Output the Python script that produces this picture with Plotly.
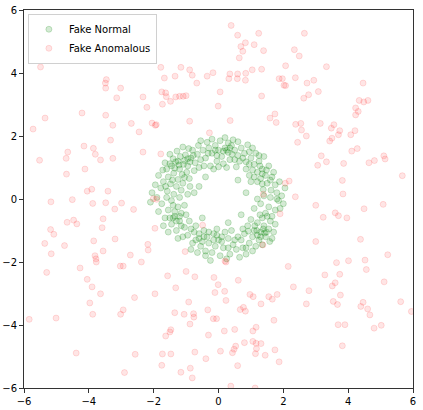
import plotly.graph_objects as go

# 이상치 탐지용 가짜 샘플 (그림에서 읽은 좌표)
normal_pts = [
    (-1.45, 1.05), (-1.32, 1.18), (-1.20, 0.95), (-1.05, 1.22), (-0.95, 1.05), (-1.12, 0.78),
    (-1.38, 0.82), (-1.55, 0.70), (-1.25, 0.62), (-0.98, 0.85), (-0.85, 1.30), (-0.72, 1.15),
    (-0.65, 1.42), (-0.80, 1.55), (-1.02, 1.40), (-1.18, 1.35), (-1.40, 1.28), (-1.60, 0.95),
    (-1.70, 0.55), (-1.48, 0.48), (-1.30, 0.40), (-1.10, 0.50), (-0.90, 0.65), (-0.75, 0.90),
    (-0.60, 1.00), (-0.55, 1.25), (-1.65, 1.15), (-1.50, 1.42), (-1.28, 1.52), (-0.92, 1.60),
    (-1.85, 0.75), (-1.78, 0.35), (-1.58, 0.25), (-1.38, 0.15), (-1.15, 0.28), (-0.88, 0.40),
    (-1.05, 0.68), (-1.22, 1.08), (-1.35, 0.98), (-0.78, 1.38), (-0.48, 1.55), (-0.62, 1.70),
    (-1.10, 1.65), (-1.50, 1.12), (-1.72, 0.92), (-0.95, 1.28), (-1.42, 0.60), (-1.63, 0.40),
    (-0.40, 1.30), (-0.30, 1.62), (-0.20, 1.45), (-0.10, 1.70), (0.00, 1.55), (0.10, 1.35),
    (0.20, 1.62), (0.30, 1.48), (0.40, 1.70), (0.50, 1.55), (0.60, 1.38), (0.70, 1.62),
    (0.35, 1.25), (0.15, 1.12), (-0.05, 1.20), (-0.25, 1.05), (-0.35, 1.80), (0.05, 1.85),
    (0.45, 1.88), (0.80, 1.45), (0.90, 1.72), (0.65, 1.20), (0.25, 1.00), (-0.15, 0.95),
    (0.55, 1.02), (-0.45, 1.05), (0.00, 1.02), (0.30, 1.78), (-0.20, 1.90), (0.75, 1.30),
    (0.95, 1.50), (0.85, 1.18), (0.15, 1.52), (-0.05, 1.38), (0.42, 1.42), (-0.32, 1.45),
    (0.60, 1.82), (1.05, 1.62), (0.20, 1.95), (0.50, 1.25),
    (1.00, 1.30), (1.10, 1.10), (1.25, 1.20), (1.35, 0.95), (1.20, 0.85), (1.05, 0.92),
    (1.45, 0.75), (1.55, 1.05), (1.40, 1.35), (1.15, 1.45), (0.95, 1.10), (1.60, 0.60),
    (1.30, 0.65), (1.70, 0.85), (1.50, 0.50), (1.75, 0.45), (1.20, 0.55), (0.95, 0.75),
    (1.62, 0.28), (1.80, 0.20), (1.38, 0.30), (1.00, 0.55), (1.28, 1.05), (1.48, 0.92),
    (1.10, 0.70), (0.85, 0.95), (1.65, 0.70), (1.35, 0.48), (1.88, 0.55), (1.25, 1.38),
    (1.40, 0.10), (1.60, 0.05), (1.85, -0.05), (1.30, -0.15), (1.55, -0.25), (1.75, -0.35),
    (1.95, 0.10), (1.20, 0.00), (1.45, -0.45), (1.65, -0.55), (1.90, -0.30), (1.10, -0.30),
    (1.35, -0.60), (1.80, 0.00), (2.00, -0.15),
    (1.20, -0.75), (1.40, -0.85), (1.55, -0.95), (1.30, -1.05), (1.10, -1.00), (1.45, -1.20),
    (1.25, -1.30), (1.05, -1.20), (0.90, -0.85), (1.60, -0.70), (1.70, -1.05), (1.15, -1.50),
    (0.95, -1.40), (1.35, -1.45), (0.80, -1.10), (1.00, -0.65), (1.50, -0.55), (1.75, -0.80),
    (1.20, -1.15), (1.38, -0.95), (0.85, -1.55), (1.05, -1.65), (0.70, -1.30), (1.58, -1.35),
    (1.28, -0.50), (0.92, -1.02), (1.12, -0.85), (1.48, -1.05), (1.65, -1.25), (0.75, -0.95),
    (0.60, -1.20), (0.45, -1.45), (0.30, -1.25), (0.15, -1.55), (0.00, -1.30), (-0.15, -1.10),
    (-0.30, -1.40), (-0.20, -1.70), (0.05, -1.80), (0.35, -1.75), (0.55, -1.60), (0.20, -1.05),
    (-0.05, -0.95), (0.40, -1.00), (0.65, -1.85), (-0.35, -1.20), (-0.10, -1.50), (0.10, -1.35),
    (0.25, -1.90), (-0.40, -1.65), (0.50, -1.30), (-0.25, -1.95), (0.75, -1.55), (-0.05, -1.15),
    (0.30, -1.55),
    (-0.45, -1.00), (-0.60, -1.25), (-0.75, -1.05), (-0.55, -1.50), (-0.80, -1.40), (-0.95, -1.15),
    (-0.70, -0.85), (-1.05, -0.90), (-1.20, -0.70), (-1.35, -0.55), (-1.15, -0.45), (-1.45, -0.80),
    (-1.30, -1.00), (-1.55, -0.35), (-1.40, -0.20), (-1.25, -0.25), (-1.65, -0.60), (-1.75, -0.15),
    (-1.85, -0.40), (-1.10, -1.20), (-0.90, -0.70), (-1.00, -0.50), (-1.55, -1.05), (-0.65, -1.70),
    (-0.85, -1.60), (-1.60, 0.05), (-1.90, 0.05), (-1.70, -0.85), (-1.25, -1.25), (-0.40, -1.80),
    (-1.45, -0.05), (-1.20, 0.05), (-1.05, -0.20), (-0.95, 0.15), (-1.35, -0.40), (-1.50, -0.60),
    (-0.70, -1.30), (-0.50, -1.35), (-1.15, -0.85), (-0.85, -0.95),
    (-0.60, 0.40), (-0.40, 0.70), (0.60, 0.60), (0.70, -0.50), (-0.50, -0.60), (0.30, -0.75),
    (-0.75, 0.20), (0.85, 0.20),
    # 빽빽한 부분 보강
    (-1.25, 1.20), (-1.08, 1.10), (-0.88, 1.18), (0.25, 1.55), (0.35, 1.62), (-0.10, 1.55),
    (1.30, -1.20), (1.18, -1.00), (1.42, -1.08), (-0.45, -1.20), (-0.30, -1.05), (-0.60, -1.10),
    (-1.30, -0.70), (-1.40, -0.60), (-1.20, -0.55), (0.10, -1.20), (-0.15, -1.30), (1.35, 0.80),
    (-2.05, 0.20), (-2.10, -0.10), (2.05, 0.35), (-1.95, 0.45), (-0.55, 1.85), (0.85, -1.75),
]

anomalous_pts = [
    # 위쪽 가운데
    (0.39, 5.51), (0.59, 5.20), (1.24, 5.26), (0.83, 4.96), (0.69, 4.84), (1.10, 4.90),
    (0.75, 4.69), (1.39, 4.71), (0.64, 4.48), (-1.78, 4.18), (-1.16, 4.18), (-0.89, 4.10),
    (-0.81, 3.93), (-1.67, 3.84), (-1.34, 3.90), (-0.35, 3.90), (-0.17, 4.01), (-0.67, 3.68),
    (0.35, 3.97), (0.59, 3.97), (0.84, 3.99), (1.04, 4.10), (1.33, 4.12), (0.32, 3.82),
    (0.58, 3.82), (0.83, 3.77), (1.87, 3.82), (1.97, 3.82), (2.02, 3.61), (-1.75, 3.40),
    (-1.63, 3.37), (-1.61, 3.25), (-1.48, 3.10), (-1.32, 3.24), (-1.20, 3.26), (-1.09, 3.26),
    (-1.00, 3.28), (-1.73, 3.01), (0.05, 3.40), (-0.01, 2.95), (1.33, 3.27), (-0.89, 2.47),
    (0.36, 2.49), (1.59, 2.57), (1.74, 2.70), (1.78, 2.43), (-1.92, 2.36), (-0.28, 2.10),
    # 오른쪽 위
    (2.65, 5.26), (2.34, 4.74), (2.49, 4.54), (2.07, 4.23), (3.33, 4.20), (2.37, 3.85),
    (2.07, 3.60), (2.73, 3.68), (2.94, 3.77), (2.78, 3.31), (3.08, 3.41), (2.63, 3.20),
    (4.46, 3.68), (4.34, 3.13), (4.48, 3.08), (4.61, 3.13), (4.23, 2.89), (4.31, 2.78),
    (4.23, 2.67), (2.38, 2.37), (2.54, 2.40), (3.14, 2.40), (2.56, 2.19), (3.56, 2.36),
    (3.48, 2.25), (3.74, 2.17), (3.70, 2.04), (4.21, 2.17), (4.08, 2.04), (2.71, 2.00),
    # 오른쪽 가운데
    (2.44, 1.80), (3.43, 1.84), (3.50, 1.93), (4.11, 1.52), (4.28, 1.60), (3.17, 1.37),
    (3.33, 1.18), (3.06, 1.07), (3.86, 1.13), (4.64, 1.15), (4.81, 1.22), (5.10, 1.37),
    (5.14, 1.27), (5.67, 0.74), (2.06, 0.50), (2.18, 0.57), (3.82, 0.59), (3.84, 0.16),
    (2.37, 0.07), (3.00, -0.20), (4.49, -0.31), (5.08, -0.17), (3.23, -0.58), (3.60, -0.44),
    (3.70, -0.53), (3.96, -0.60), (3.00, -1.35), (4.38, -1.28), (5.22, -1.77), (3.64, -2.02),
    (4.01, -1.96), (4.52, -1.94),
    # 오른쪽 아래
    (2.15, -2.14), (4.56, -2.24), (3.28, -2.41), (3.74, -2.39), (3.60, -2.66), (3.51, -2.76),
    (5.11, -2.63), (2.31, -2.79), (2.79, -2.91), (3.76, -3.05), (2.71, -3.33), (3.54, -3.25),
    (3.67, -3.35), (4.46, -3.28), (4.39, -3.41), (4.60, -3.49), (4.67, -3.68), (5.62, -3.26),
    (5.95, -3.57), (3.69, -3.99), (3.90, -3.99), (4.80, -4.10), (5.02, -4.01), (3.82, -4.66),
    # 아래 가운데
    (0.23, -2.00), (-1.00, -2.30), (-1.57, -2.44), (-0.73, -2.47), (-0.14, -2.49), (0.61, -2.58),
    (-1.32, -2.82), (-0.01, -2.72), (-0.11, -2.97), (0.19, -2.93), (0.23, -3.22), (0.97, -3.03),
    (1.07, -3.10), (1.31, -3.33), (1.55, -3.10), (1.66, -3.18), (1.81, -3.03), (-1.96, -3.01),
    (-0.92, -3.27), (-1.35, -3.61), (-1.06, -3.66), (-0.77, -3.64), (-0.76, -3.75), (-0.33, -3.52),
    (0.67, -3.51), (0.77, -3.44), (0.83, -3.56), (-0.16, -3.80), (-0.06, -3.80), (-0.88, -3.97),
    (-1.47, -4.15), (-1.50, -4.22), (-1.63, -4.35), (-0.31, -4.32), (0.18, -4.19), (0.50, -4.14),
    (1.06, -4.19), (1.16, -4.07), (1.71, -3.85), (0.80, -4.56), (1.06, -4.52), (1.16, -4.58),
    (1.31, -4.59), (0.53, -4.67), (0.48, -4.77), (0.43, -4.88), (1.17, -4.75), (1.14, -4.91),
    (1.44, -4.96), (1.74, -4.79), (1.87, -5.17), (-1.73, -4.92), (-1.47, -4.92), (-0.73, -4.86),
    (0.06, -4.83), (-0.39, -5.07), (-1.75, -5.28), (0.59, -5.29), (-1.16, -5.50), (-0.87, -5.37),
    (-0.81, -5.68), (0.38, -5.94), (1.13, -6.00),
    # 왼쪽 아래
    (-5.30, -2.33), (-4.27, -2.19), (-4.05, -2.55), (-3.90, -2.79), (-3.64, -3.01), (-3.97, -3.30),
    (-3.88, -3.66), (-3.03, -2.13), (-2.94, -2.13), (-2.38, -2.00), (-2.59, -3.13), (-2.94, -3.52),
    (-3.02, -3.66), (-5.84, -3.82), (-5.01, -3.78), (-4.39, -4.89), (-2.57, -4.93), (-2.90, -5.51),
    (-3.77, -2.00),
    # 왼쪽 가운데
    (-3.33, 1.87), (-4.15, 1.68), (-3.86, 1.61), (-4.65, 1.49), (-3.80, 1.42), (-2.33, 1.49),
    (-5.52, 1.23), (-4.70, 1.29), (-3.64, 1.24), (-3.26, 1.29), (-4.12, 0.95), (-4.69, 0.79),
    (-4.05, 0.25), (-3.91, 0.31), (-3.41, 0.25), (-5.17, -0.09), (-4.51, -0.02), (-3.88, -0.14),
    (-3.48, -0.12), (-2.99, -0.13), (-3.20, -0.32), (-2.62, -0.33), (-2.01, 0.01), (-4.67, -0.74),
    (-4.47, -0.67), (-4.37, -0.79), (-3.56, -0.63), (-3.59, -0.91), (-5.18, -0.97), (-5.08, -1.12),
    (-5.36, -1.41), (-4.75, -1.48), (-3.85, -1.33), (-3.19, -1.27), (-2.18, -1.44), (-2.17, -1.62),
    (-3.56, -1.65), (-5.16, -1.74), (-3.81, -1.80), (-3.78, -1.90), (-2.72, -1.78),
    # 왼쪽 위
    (-5.49, 4.19), (-3.46, 3.79), (-3.49, 3.68), (-3.48, 3.52), (-3.02, 3.52), (-3.14, 3.21),
    (-2.33, 3.24), (-2.21, 2.91), (-5.35, 2.57), (-4.21, 2.73), (-3.48, 2.66), (-2.69, 2.40),
    (-3.26, 2.34), (-2.05, 2.41), (-1.95, 2.34), (-5.72, 2.22), (-2.45, 2.13),
    # 링 근처
    (-1.78, 1.43), (-1.91, -0.01), (1.38, 0.15), (-0.49, -0.83), (1.90, -0.47), (1.37, -1.46),
    (-1.03, -1.67), (0.20, -1.97), (-1.96, -0.93),
]

axis_ticks = [-6, -4, -2, 0, 2, 4, 6]

nx, ny = zip(*normal_pts)
ax_, ay_ = zip(*anomalous_pts)

fig = go.Figure()
fig.add_trace(go.Scatter(
    x=nx, y=ny, mode='markers', name='Fake Normal',
    marker=dict(size=6, color='rgba(0,128,0,0.17)',
                line=dict(color='rgba(0,128,0,0.2)', width=1)),
))
fig.add_trace(go.Scatter(
    x=ax_, y=ay_, mode='markers', name='Fake Anomalous',
    marker=dict(size=6, color='rgba(255,0,0,0.1)',
                line=dict(color='rgba(255,0,0,0.12)', width=1)),
))

axis_style = dict(range=[-6, 6], tickvals=axis_ticks, showgrid=False, zeroline=False,
                  showline=True, linecolor='#333', linewidth=1, mirror=True,
                  ticks='outside', ticklen=4, tickcolor='#333',
                  tickfont=dict(size=10, color='black'), automargin=False)

fig.update_layout(
    width=423, height=410,
    margin=dict(l=24, r=10, t=10, b=22),
    paper_bgcolor='white', plot_bgcolor='white',
    font=dict(family='DejaVu Sans', size=10, color='black'),
    xaxis=axis_style, yaxis=axis_style,
    legend=dict(x=0.01, y=0.99, xanchor='left', yanchor='top',
                bgcolor='white', bordercolor='#d0d0d0', borderwidth=1,
                font=dict(size=10)),
)

# 브라우저 기본 body 여백 제거
fig.write_html("out.html", config={'displayModeBar': False},
               post_script="document.body.style.margin='0';")
